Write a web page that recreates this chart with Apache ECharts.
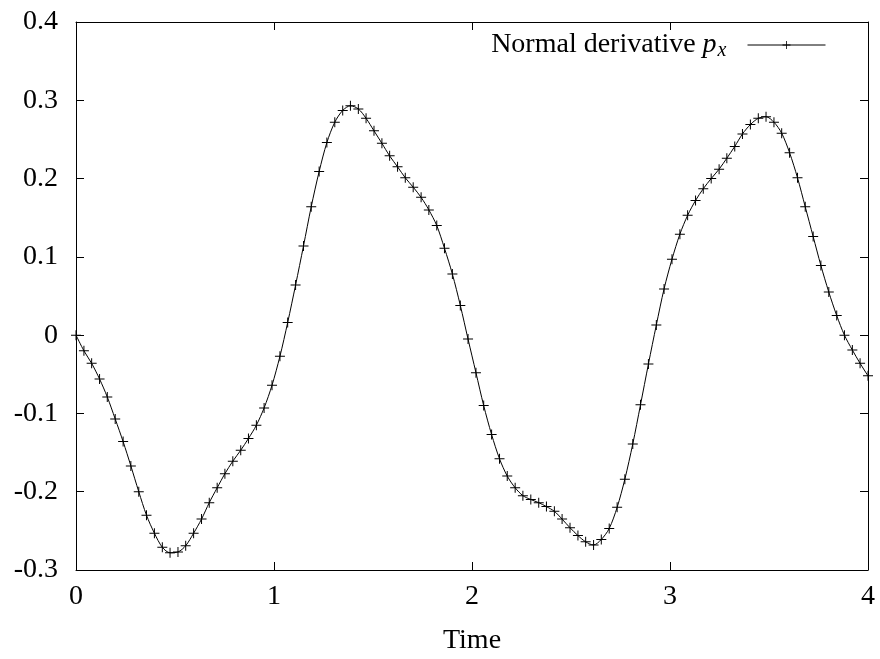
<!DOCTYPE html>
<html>
<head>
<meta charset="utf-8">
<script src="https://cdn.jsdelivr.net/npm/echarts@6/dist/echarts.min.js"></script>
<style>
html,body{margin:0;padding:0;background:#fff;}
#chart{width:880px;height:659px;}
</style>
</head>
<body>
<div id="chart"></div>
<script>
const times = [0,0.040,0.079,0.119,0.158,0.198,0.238,0.277,0.317,0.356,
0.396,0.436,0.475,0.515,0.554,0.594,0.634,0.673,0.713,0.752,
0.792,0.832,0.871,0.911,0.950,0.990,1.030,1.069,1.109,1.149,
1.188,1.228,1.267,1.307,1.347,1.386,1.426,1.465,1.505,1.545,
1.584,1.624,1.663,1.703,1.743,1.782,1.822,1.861,1.901,1.941,
1.980,2.020,2.059,2.099,2.139,2.178,2.218,2.257,2.297,2.337,
2.376,2.416,2.455,2.495,2.535,2.574,2.614,2.653,2.693,2.733,
2.772,2.812,2.851,2.891,2.931,2.970,3.010,3.050,3.089,3.129,
3.168,3.208,3.248,3.287,3.327,3.366,3.406,3.446,3.485,3.525,
3.564,3.604,3.644,3.683,3.723,3.762,3.802,3.842,3.881,3.921,
3.960,4.000];
const px = [0,-0.020,-0.036,-0.056,-0.079,-0.107,-0.136,-0.167,-0.200,-0.230,
-0.253,-0.271,-0.278,-0.277,-0.269,-0.253,-0.235,-0.214,-0.195,-0.177,
-0.161,-0.147,-0.132,-0.115,-0.093,-0.064,-0.027,0.016,0.064,0.114,
0.164,0.209,0.246,0.272,0.287,0.293,0.289,0.277,0.261,0.245,
0.229,0.215,0.201,0.189,0.176,0.160,0.140,0.111,0.078,0.038,
-0.005,-0.048,-0.090,-0.127,-0.158,-0.180,-0.195,-0.205,-0.210,-0.214,
-0.219,-0.225,-0.235,-0.246,-0.256,-0.264,-0.268,-0.261,-0.247,-0.220,
-0.184,-0.139,-0.089,-0.037,0.013,0.059,0.097,0.129,0.153,0.172,
0.187,0.200,0.212,0.226,0.241,0.257,0.269,0.277,0.279,0.272,
0.258,0.233,0.201,0.164,0.126,0.089,0.055,0.025,0.000,-0.019,
-0.036,-0.052];
const xTicks = [0,1,2,3,4];
const yTicks = [-0.3,-0.2,-0.1,0,0.1,0.2,0.3,0.4];
const seriesName = 'Normal derivative p_x';
const xLabel = 'Time';

const FONT = 'Liberation Serif';
const FS = 28;
const plus = 'path://M4.5,0h1v4.5h4.5v1h-4.5v4.5h-1v-4.5h-4.5v-1h4.5z';
const fmtY = v => { const r = Math.round(v*10)/10; return r === 0 ? '0' : r.toFixed(1); };

const axisCommon = {
  type: 'value',
  splitLine: {show: false},
  axisLine: {show: true, onZero: false, lineStyle: {color: '#000', width: 1}},
  axisTick: {show: true, inside: true, length: 8, lineStyle: {color: '#000', width: 1}},
  minorTick: {show: false}
};

const chart = echarts.init(document.getElementById('chart'), null, {renderer: 'canvas'});
chart.setOption({
  animation: false,
  backgroundColor: '#fff',
  grid: {left: 76, right: 12, top: 22, bottom: 89, containLabel: false, outerBoundsMode: 'none'},
  legend: {
    show: true,
    right: 49, top: 26,
    align: 'right',
    itemWidth: 78, itemHeight: 10,
    itemGap: 0,
    data: [seriesName],
    lineStyle: {width: 1, color: '#000'},
    formatter: () => '{n|Normal derivative }{p|p}{s|x}',
    textStyle: {
      color: '#000', fontFamily: FONT, fontSize: FS, padding: [0, 16, 0, 0],
      rich: {
        n: {fontFamily: FONT, fontSize: FS, color: '#000'},
        p: {fontFamily: FONT, fontSize: FS, fontStyle: 'italic', color: '#000'},
        s: {fontFamily: FONT, fontSize: 20, fontStyle: 'italic', color: '#000', verticalAlign: 'bottom', padding: [12, 0, 0, 1]}
      }
    }
  },
  xAxis: [
    Object.assign({}, axisCommon, {
      min: xTicks[0], max: xTicks[xTicks.length-1], interval: 1, position: 'bottom',
      axisLabel: {show: true, color: '#000', fontFamily: FONT, fontSize: FS, margin: 13},
      name: xLabel, nameLocation: 'middle', nameGap: 57,
      nameTextStyle: {color: '#000', fontFamily: FONT, fontSize: FS}
    }),
    Object.assign({}, axisCommon, {
      min: xTicks[0], max: xTicks[xTicks.length-1], interval: 1, position: 'top',
      axisLabel: {show: false}
    })
  ],
  yAxis: [
    Object.assign({}, axisCommon, {
      min: yTicks[0], max: yTicks[yTicks.length-1], interval: 0.1, position: 'left',
      axisLabel: {show: true, color: '#000', fontFamily: FONT, fontSize: FS, margin: 18, formatter: fmtY}
    }),
    Object.assign({}, axisCommon, {
      min: yTicks[0], max: yTicks[yTicks.length-1], interval: 0.1, position: 'right',
      axisLabel: {show: false}
    })
  ],
  series: [{
    name: seriesName,
    type: 'line',
    xAxisIndex: 0, yAxisIndex: 0,
    data: times.map((t, i) => [t, px[i]]),
    smooth: 0.3,
    symbol: plus,
    symbolSize: 10,
    showAllSymbol: true,
    lineStyle: {color: '#000', width: 1},
    itemStyle: {color: '#000'},
    emphasis: {disabled: true}
  }]
});
</script>
</body>
</html>
